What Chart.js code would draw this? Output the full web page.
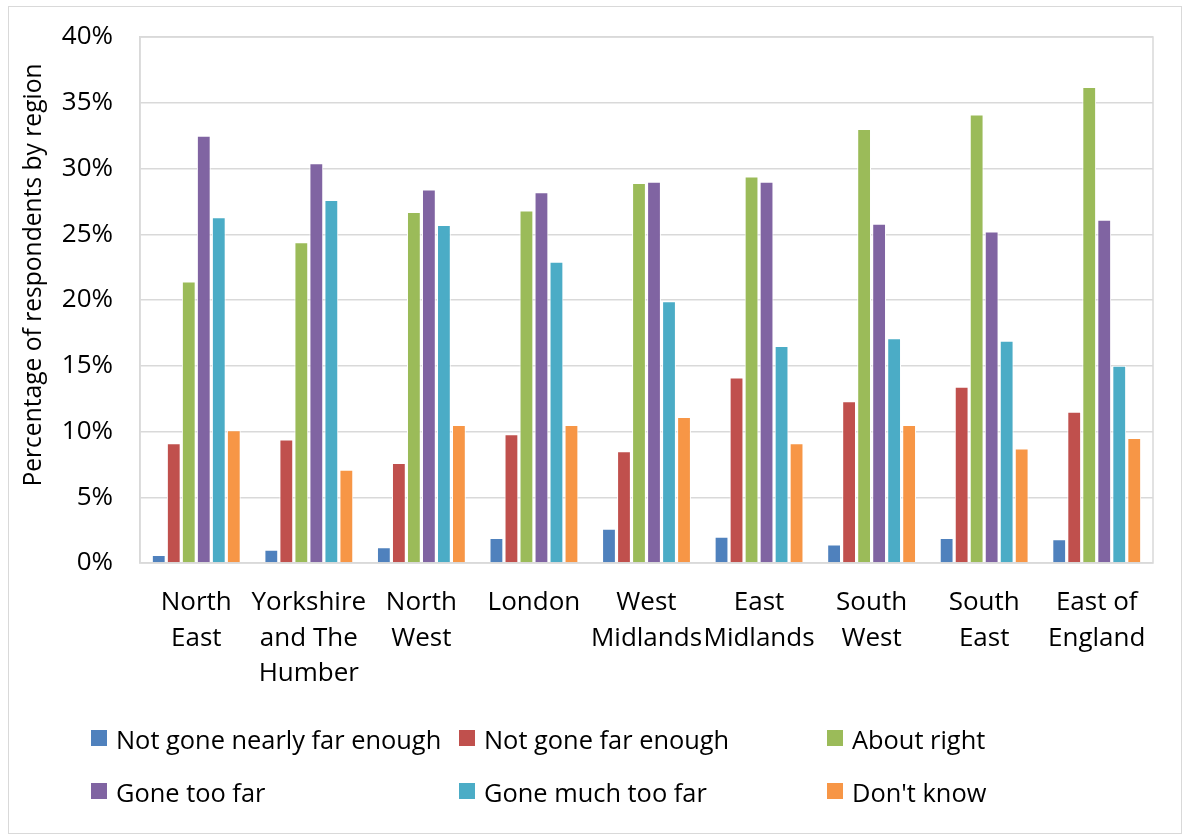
<!DOCTYPE html>
<html>
<head>
<meta charset="utf-8">
<script src="https://cdn.jsdelivr.net/npm/chart.js@4/dist/chart.umd.min.js"></script>
<style>
  html, body { margin: 0; padding: 0; background: #fff; }
  #wrap { position: relative; width: 1188px; height: 836px; }
  #frame { position: absolute; left: 8px; top: 6px; width: 1174px; height: 828px; border: 1px solid #d9d9d9; box-sizing: border-box; }
  #chart { position: absolute; left: 0; top: 0; }
  .leg { position: absolute; font-family: "Open Sans", sans-serif; font-size: 25.4px; color: #000; white-space: nowrap; line-height: 26px; }
  .leg i { position: absolute; left: 0; top: 4px; width: 16px; height: 16px; }
  .leg span { position: absolute; left: 25px; top: 0; }
</style>
</head>
<body>
<div id="wrap">
  <div id="frame"></div>
  <canvas id="chart" width="1188" height="836"></canvas>
  <div id="legend"></div>
</div>
<script>
// Regions (x-axis categories), wrapped as they are printed under the axis
const regions = [
  ['North', 'East'],
  ['Yorkshire', 'and The', 'Humber'],
  ['North', 'West'],
  ['London'],
  ['West', 'Midlands'],
  ['East', 'Midlands'],
  ['South', 'West'],
  ['South', 'East'],
  ['East of', 'England']
];

// Share of respondents (%) giving each answer, per region
const notGoneNearlyFarEnough = [0.6, 1.0, 1.2, 1.9, 2.6, 2.0, 1.4, 1.9, 1.8];
const notGoneFarEnough       = [9.1, 9.4, 7.6, 9.8, 8.5, 14.1, 12.3, 13.4, 11.5];
const aboutRight             = [21.4, 24.4, 26.7, 26.8, 28.9, 29.4, 33.0, 34.1, 36.2];
const goneTooFar             = [32.5, 30.4, 28.4, 28.2, 29.0, 29.0, 25.8, 25.2, 26.1];
const goneMuchTooFar         = [26.3, 27.6, 25.7, 22.9, 19.9, 16.5, 17.1, 16.9, 15.0];
const dontKnow               = [10.1, 7.1, 10.5, 10.5, 11.1, 9.1, 10.5, 8.7, 9.5];

const seriesNames = ['Not gone nearly far enough', 'Not gone far enough', 'About right',
                     'Gone too far', 'Gone much too far', "Don't know"];
const seriesData = [notGoneNearlyFarEnough, notGoneFarEnough, aboutRight,
                    goneTooFar, goneMuchTooFar, dontKnow];
const seriesColors = ['#4F81BD', '#C0504D', '#9BBB59', '#8064A2', '#4BACC6', '#F79646'];

// y-axis ticks and title
const yTicks = [0, 5, 10, 15, 20, 25, 30, 35, 40];
const yTitle = 'Percentage of respondents by region';

const FONT = '"Open Sans", sans-serif';
const GRID = '#d9d9d9';

// Frame around the plotting area
const plotFrame = {
  id: 'plotFrame',
  afterDraw(chart) {
    const { ctx, chartArea: a } = chart;
    ctx.save();
    ctx.strokeStyle = GRID;
    ctx.lineWidth = 1.5;
    ctx.strokeRect(a.left, a.top, a.right - a.left, a.bottom - a.top);
    ctx.restore();
  }
};

// Rotated value-axis title, set a little above the plot's midline
const axisTitle = {
  id: 'axisTitle',
  afterDraw(chart) {
    const { ctx } = chart;
    ctx.save();
    ctx.translate(34, 275);
    ctx.rotate(-Math.PI / 2);
    ctx.font = '24.6px ' + FONT;
    ctx.fillStyle = '#000';
    ctx.textAlign = 'center';
    ctx.textBaseline = 'middle';
    ctx.fillText(yTitle, 0, 0);
    ctx.restore();
  }
};

new Chart(document.getElementById('chart'), {
  type: 'bar',
  data: {
    labels: regions,
    datasets: seriesNames.map((name, i) => ({
      label: name,
      data: seriesData[i],
      backgroundColor: seriesColors[i],
      borderColor: '#ffffff',
      borderWidth: 1,
      barPercentage: 0.92,
      categoryPercentage: 0.8
    }))
  },
  options: {
    responsive: false,
    animation: false,
    layout: { padding: { left: 8, top: 37, right: 35, bottom: 0 } },
    plugins: {
      legend: { display: false },
      tooltip: { enabled: false }
    },
    scales: {
      x: {
        grid: { display: false, drawTicks: false },
        border: { display: false },
        ticks: {
          color: '#000',
          font: { family: FONT, size: 26, lineHeight: 1.35 },
          padding: 22.5,
          maxRotation: 0,
          autoSkip: false
        },
        afterFit(scale) { scale.height = 273; }
      },
      y: {
        min: 0,
        max: 40,
        afterBuildTicks(scale) { scale.ticks = yTicks.map(v => ({ value: v })); },
        grid: { color: GRID, lineWidth: 1.5, drawTicks: false },
        border: { display: true, color: GRID, width: 1.5 },
        ticks: {
          color: '#000',
          font: { family: FONT, size: 26 },
          padding: 27,
          callback: v => v + '%'
        },
        afterFit(scale) {
          scale.width = 132;
          scale.paddingTop = 16;
          scale.paddingBottom = 16;
        }
      }
    }
  },
  plugins: [plotFrame, axisTitle]
});

// Legend: three columns, two rows
const legendPos = [
  [91, 726], [459, 726], [827, 726],
  [91, 779], [459, 779], [827, 779]
];
const legend = document.getElementById('legend');
seriesNames.forEach((name, i) => {
  const d = document.createElement('div');
  d.className = 'leg';
  d.style.left = legendPos[i][0] + 'px';
  d.style.top = legendPos[i][1] + 'px';
  const sw = document.createElement('i');
  sw.style.background = seriesColors[i];
  const t = document.createElement('span');
  t.textContent = name;
  d.appendChild(sw);
  d.appendChild(t);
  legend.appendChild(d);
});
</script>
</body>
</html>
